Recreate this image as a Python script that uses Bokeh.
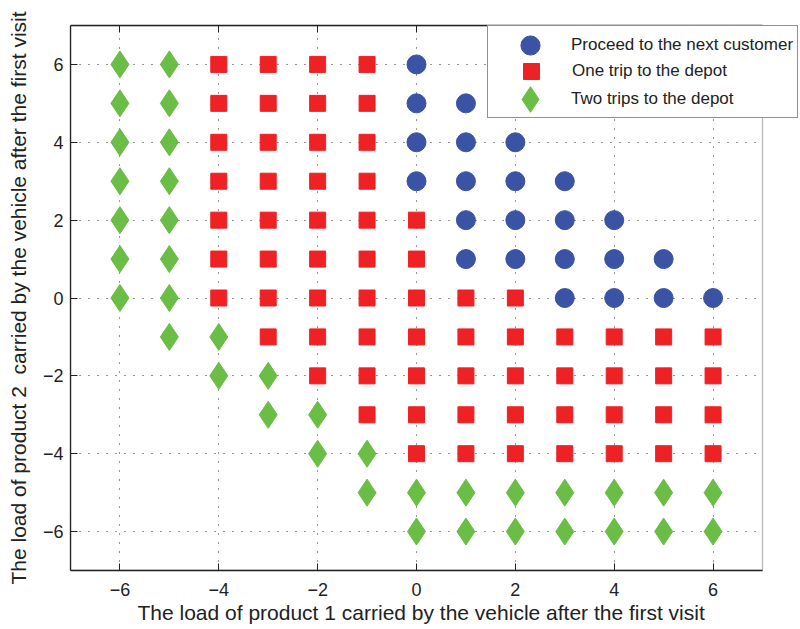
from bokeh.plotting import figure
from bokeh.models import (Legend, LegendItem, LinearAxis, Range1d, FixedTicker,
                          BoxAnnotation, Title)
from bokeh.embed import file_html
from bokeh.resources import INLINE

# --- data ---
blue_x = [0, 0, 0, 0, 1, 1, 1, 1, 1, 2, 2, 2, 2, 3, 3, 3, 3, 4, 4, 4, 5, 5, 6]
blue_y = [3, 4, 5, 6, 1, 2, 3, 4, 5, 1, 2, 3, 4, 0, 1, 2, 3, 0, 1, 2, 0, 1, 0]

red_x = ([-4] * 7 + [-3] * 8 + [-2] * 9 + [-1] * 10 + [0] * 7 +
         [1] * 5 + [2] * 5 + [3] * 4 + [4] * 4 + [5] * 4 + [6] * 4)
red_y = ([0, 1, 2, 3, 4, 5, 6] +
         [-1, 0, 1, 2, 3, 4, 5, 6] +
         [-2, -1, 0, 1, 2, 3, 4, 5, 6] +
         [-3, -2, -1, 0, 1, 2, 3, 4, 5, 6] +
         [-4, -3, -2, -1, 0, 1, 2] +
         [-4, -3, -2, -1, 0] +
         [-4, -3, -2, -1, 0] +
         [-4, -3, -2, -1] * 4)

green_x = ([-6] * 7 + [-5] * 8 + [-4, -4, -3, -3, -2, -2, -1, -1] +
           [0, 0, 1, 1, 2, 2, 3, 3, 4, 4, 5, 5, 6, 6])
green_y = ([0, 1, 2, 3, 4, 5, 6] + [-1, 0, 1, 2, 3, 4, 5, 6] +
           [-1, -2, -2, -3, -3, -4, -4, -5] +
           [-5, -6] * 7)

series_labels = ["Proceed to the next customer", "One trip to the depot", "Two trips to the depot"]
tick_values = [-6, -4, -2, 0, 2, 4, 6]
tick_labels = ["\u22126", "\u22124", "\u22122", "0", "2", "4", "6"]
axis_lo, axis_hi = -7, 7
x_title = "The load of product 1 carried by the vehicle after the first visit"
y_title = "The load of product 2\u00a0 carried by the vehicle after the first visit"

BLUE = "#3A53A4"
RED = "#EE2124"
GREEN = "#6ABD45"
INK = "#222222"
FONT = "Liberation Sans"

# layout: the axes box spans 70..762 px; the frame is extended to 798 px so the
# legend (which overhangs the box, as in the reference) is not clipped.
W, H = 800, 629
BOX_L, BOX_R, FRAME_R = 70, 762, 798
px_per_unit = (BOX_R - BOX_L) / (axis_hi - axis_lo)
x_end = axis_hi + (FRAME_R - BOX_R) / px_per_unit

p = figure(width=W, height=H, output_backend="svg", toolbar_location=None,
           x_range=Range1d(axis_lo, x_end), y_range=Range1d(axis_lo, axis_hi),
           min_border_left=BOX_L, min_border_right=W - FRAME_R,
           min_border_top=25, min_border_bottom=59)

p.background_fill_color = "white"
p.border_fill_color = "white"
p.outline_line_color = None

r_blue = p.scatter(blue_x, blue_y, marker="circle", size=19, fill_color=BLUE, line_color=BLUE)
r_red = p.scatter(red_x, red_y, marker="square", size=16, fill_color=RED, line_color=RED)
r_green = p.scatter(green_x, green_y, marker="diamond", size=27, fill_color=GREEN, line_color=GREEN)

overrides = {v: l for v, l in zip(tick_values, tick_labels)}

for ax in (p.xaxis[0], p.yaxis[0]):
    ax.ticker = FixedTicker(ticks=tick_values)
    ax.major_label_overrides = overrides
    ax.major_tick_in = 7
    ax.major_tick_out = 0
    ax.minor_tick_line_color = None
    ax.axis_line_color = INK
    ax.axis_line_width = 1.3
    ax.major_tick_line_color = INK
    ax.major_label_text_font = FONT
    ax.major_label_text_font_size = "18px"
    ax.major_label_text_color = INK
    ax.axis_label_text_font = FONT
    ax.axis_label_text_font_size = "21px"
    ax.axis_label_text_font_style = "normal"
    ax.axis_label_text_color = INK

p.xaxis[0].bounds = (axis_lo, axis_hi)
p.yaxis[0].axis_label = y_title
p.xaxis[0].major_label_standoff = 12
p.yaxis[0].major_label_standoff = 7
p.yaxis[0].axis_label_standoff = 10

# x-axis title, placed under the box (not centred under the widened frame)
xt = Title(text=x_title, align="left", offset=67, standoff=0,
           text_font=FONT, text_font_size="21px", text_font_style="normal",
           text_color=INK)
p.add_layout(xt, "below")

# top edge of the box with inward tick marks (no labels)
top = LinearAxis(ticker=FixedTicker(ticks=[], minor_ticks=tick_values), bounds=(axis_lo, axis_hi))
top.major_tick_line_color = None
top.minor_tick_in = 7
top.minor_tick_out = 0
top.minor_tick_line_color = INK
top.axis_line_color = INK
top.axis_line_width = 1.3
top.major_label_standoff = 0
p.add_layout(top, "above")

for g in (p.xgrid[0], p.ygrid[0]):
    g.ticker = FixedTicker(ticks=tick_values)
    g.grid_line_color = "#333333"
    g.grid_line_dash = "1 8"
    g.grid_line_width = 1

# blank the area right of the box, then draw the box's right edge
p.add_layout(BoxAnnotation(left=axis_hi, fill_color="white", fill_alpha=1,
                           line_color=None, level="glyph"))
p.add_layout(BoxAnnotation(left=axis_lo, right=axis_hi, bottom=axis_lo, top=axis_hi,
                           fill_color=None, line_color=INK, line_width=1.4))


def make_legend(label, renderer, glyph_h, loc, padding, framed):
    lg = Legend(items=[LegendItem(label=label, renderers=[renderer])], location=loc)
    lg.glyph_width = 82
    lg.glyph_height = glyph_h
    lg.padding = padding
    lg.margin = 0
    lg.spacing = 0
    lg.label_standoff = 0
    lg.label_width = 222
    lg.label_text_font = FONT
    lg.label_text_font_size = "17px"
    lg.label_text_color = INK
    if framed:
        lg.border_line_color = INK
        lg.border_line_width = 1.3
        lg.background_fill_color = "white"
        lg.background_fill_alpha = 1
    else:
        lg.border_line_color = None
        lg.background_fill_alpha = 0
    return lg


# framed middle entry carries the legend box; the other two are drawn over it
p.add_layout(make_legend(series_labels[1], r_red, 40, (417, 452), (2, 3, 25, 26), True), "center")
p.add_layout(make_legend(series_labels[0], r_blue, 48, (419, 501), (2, 3, 0, 0), False), "center")
p.add_layout(make_legend(series_labels[2], r_green, 64, (419, 439), (2, 3, 0, 0), False), "center")

open("out.html", "w").write(file_html(p, INLINE))
